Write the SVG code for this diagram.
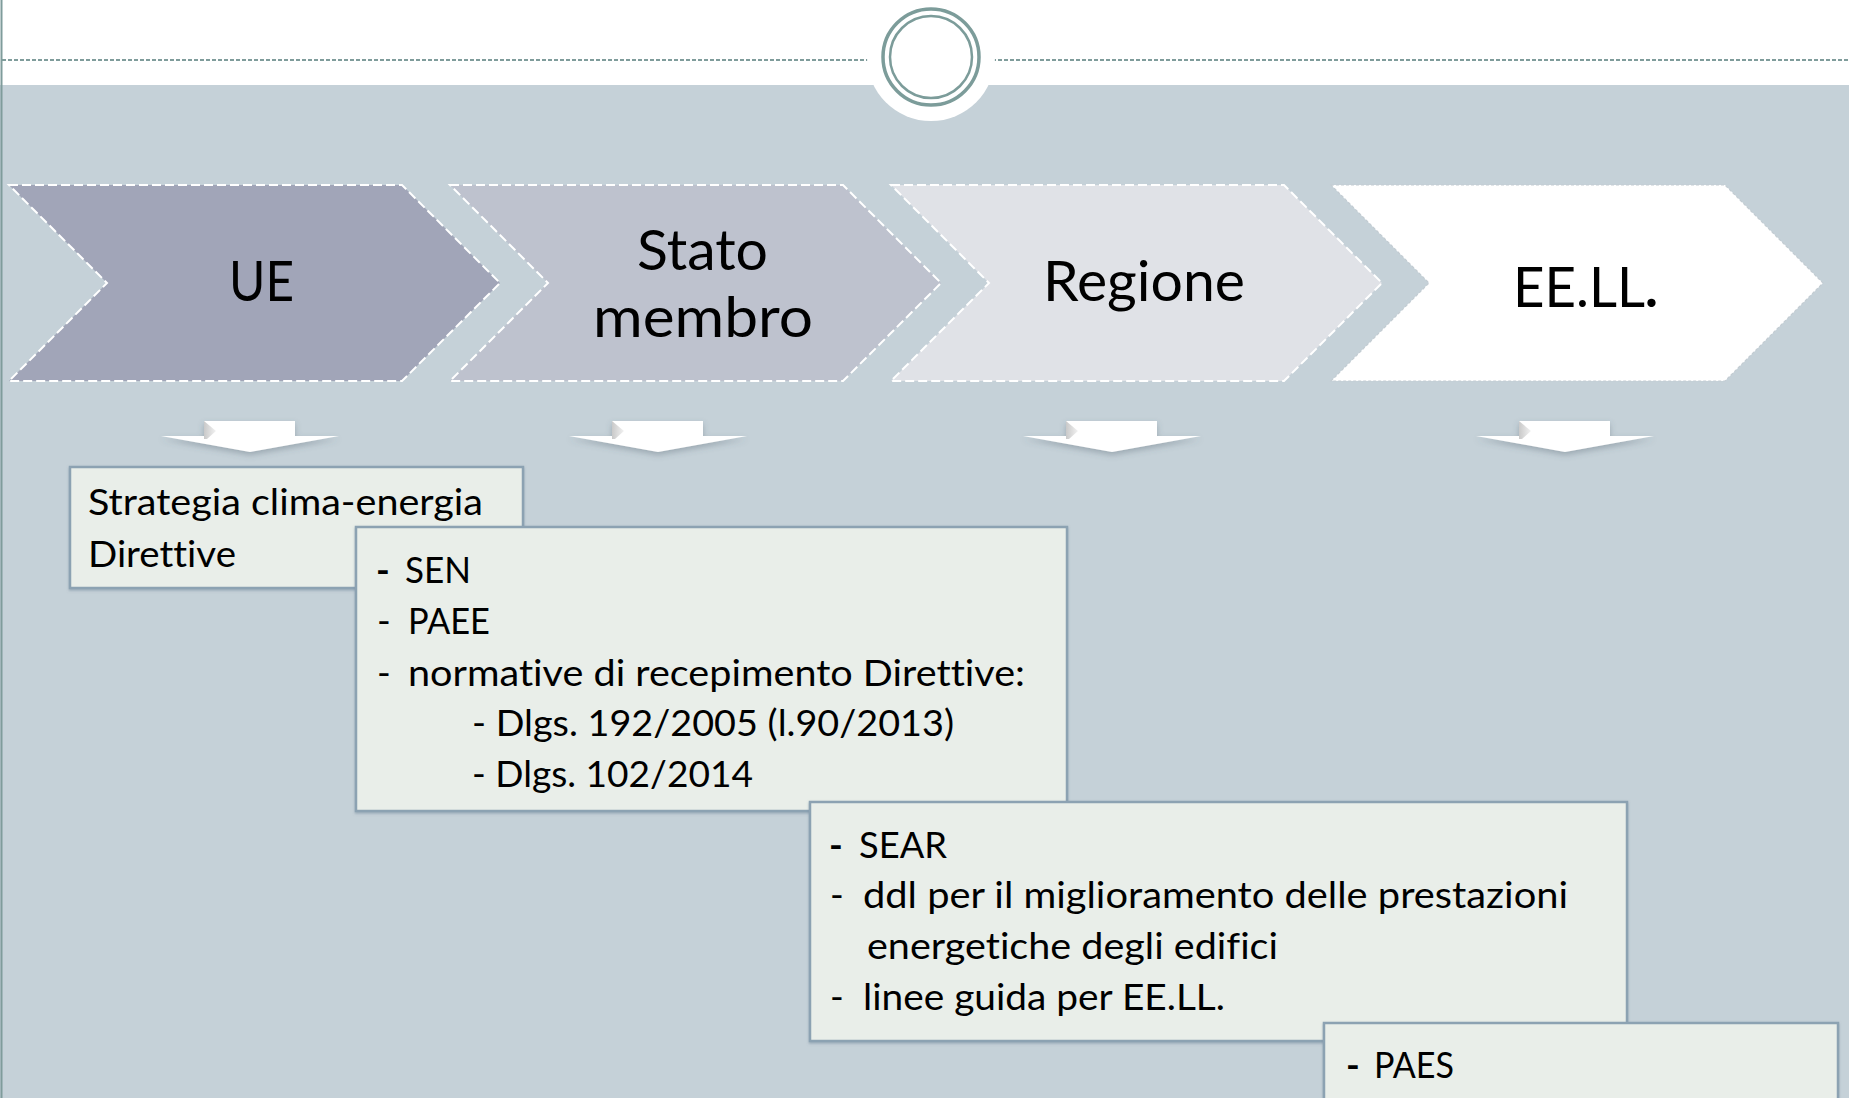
<svg xmlns="http://www.w3.org/2000/svg" width="1849" height="1098" viewBox="0 0 1849 1098">
<style>
  .lbl { font-family: Lato, "Open Sans", "Liberation Sans", sans-serif; font-size: 56px; fill: #000; font-variant-ligatures: none; }
  .txt { font-family: Lato, "Open Sans", "Liberation Sans", sans-serif; font-size: 37px; fill: #000; font-variant-ligatures: none; }
  .b { font-weight: bold; }
  .chev { stroke: #ffffff; stroke-width: 2; stroke-dasharray: 9 4; }
  .box { fill: #e9eee9; stroke: #8ca2b2; stroke-width: 2.5; }
  .ring { fill: none; stroke: #7c9c9a; }
</style>
<defs>
  <filter id="sh" x="-20%" y="-50%" width="140%" height="220%">
    <feDropShadow dx="0" dy="3" stdDeviation="3" flood-color="#4a5a66" flood-opacity="0.35"/>
  </filter>
  <filter id="bsh" x="-5%" y="-5%" width="110%" height="115%">
    <feDropShadow dx="0" dy="1.5" stdDeviation="1" flood-color="#6d8597" flood-opacity="0.5"/>
  </filter>
  <linearGradient id="bev" x1="0" y1="0" x2="1" y2="0">
    <stop offset="0" stop-color="#c9c9c9"/>
    <stop offset="1" stop-color="#f2f2f2"/>
  </linearGradient>
  <g id="arrow">
    <path d="M-46,421 H45 V436 H89 L0,452 L-89,436 H-46 Z" fill="#ffffff" filter="url(#sh)"/>
    <path d="M-46,421 L-34,431 L-43,439 L-46,439 Z" fill="url(#bev)"/>
  </g>
</defs>

<!-- background -->
<rect x="0" y="0" width="1849" height="1098" fill="#ffffff"/>
<rect x="0" y="85" width="1849" height="1013" fill="#c5d1d8"/>
<line x1="2" y1="60" x2="1849" y2="60" stroke="#7f9c9b" stroke-width="2" stroke-dasharray="4 2"/>
<circle cx="931" cy="57" r="64" fill="#ffffff"/>
<circle class="ring" cx="931" cy="57" r="48" stroke-width="3.5"/>
<circle class="ring" cx="931" cy="57" r="41" stroke-width="2.5"/>
<line x1="1.5" y1="0" x2="1.5" y2="1098" stroke="#7f9c9b" stroke-width="2"/>

<!-- chevrons -->
<g id="node-ue">
  <polygon class="chev" fill="#a1a5b8" points="9,185 402,185 500,283 402,381 9,381 107,283"/>
  <text class="lbl" x="229" y="301" textLength="65" lengthAdjust="spacingAndGlyphs">UE</text>
</g>
<g id="node-stato">
  <polygon class="chev" fill="#bec2ce" points="450,185 843,185 941,283 843,381 450,381 548,283"/>
  <text class="lbl" x="637" y="270" textLength="131" lengthAdjust="spacingAndGlyphs">Stato</text>
  <text class="lbl" x="593" y="337" textLength="220" lengthAdjust="spacingAndGlyphs">membro</text>
</g>
<g id="node-regione">
  <polygon class="chev" fill="#e0e2e7" points="891,185 1284,185 1382,283 1284,381 891,381 989,283"/>
  <text class="lbl" x="1043" y="301" textLength="202" lengthAdjust="spacingAndGlyphs">Regione</text>
</g>
<g id="node-eell">
  <polygon fill="#ffffff" stroke="#c3ccd2" stroke-width="1.2" stroke-dasharray="3 2" points="1331,185 1725,185 1823,283 1725,381 1331,381 1429,283"/>
  <text class="lbl" x="1513" y="307" textLength="145" lengthAdjust="spacingAndGlyphs">EE.LL<tspan class="b">.</tspan></text>
</g>

<!-- connectors (down arrows) -->
<g id="connectors">
  <use href="#arrow" transform="translate(250,0)"/>
  <use href="#arrow" transform="translate(658,0)"/>
  <use href="#arrow" transform="translate(1112,0)"/>
  <use href="#arrow" transform="translate(1565,0)"/>
</g>

<!-- boxes -->
<g id="box-ue">
  <rect class="box" x="70" y="467" width="453" height="121" filter="url(#bsh)"/>
  <text class="txt" x="88" y="515" textLength="395" lengthAdjust="spacingAndGlyphs">Strategia clima-energia</text>
  <text class="txt" x="88" y="567" textLength="148" lengthAdjust="spacingAndGlyphs">Direttive</text>
</g>
<g id="box-stato">
  <rect class="box" x="356" y="527" width="711" height="284" filter="url(#bsh)"/>
  <text class="txt b" x="376" y="583">-</text>
  <text class="txt" x="405" y="583" textLength="66" lengthAdjust="spacingAndGlyphs">SEN</text>
  <text class="txt" x="377" y="634">-</text>
  <text class="txt" x="408" y="634" textLength="82" lengthAdjust="spacingAndGlyphs">PAEE</text>
  <text class="txt" x="377" y="686">-</text>
  <text class="txt" x="408" y="686" textLength="617" lengthAdjust="spacingAndGlyphs">normative di recepimento Direttive:</text>
  <text class="txt" x="472" y="736" textLength="482" lengthAdjust="spacingAndGlyphs">- Dlgs. 192/2005 (l.90/2013)</text>
  <text class="txt" x="472" y="787" textLength="281" lengthAdjust="spacingAndGlyphs">- Dlgs. 102/2014</text>
</g>
<g id="box-regione">
  <rect class="box" x="810" y="802" width="817" height="239" filter="url(#bsh)"/>
  <text class="txt b" x="829" y="858">-</text>
  <text class="txt" x="859" y="858" textLength="88" lengthAdjust="spacingAndGlyphs">SEAR</text>
  <text class="txt" x="830" y="908">-</text>
  <text class="txt" x="863" y="908" textLength="705" lengthAdjust="spacingAndGlyphs">ddl per il miglioramento delle prestazioni</text>
  <text class="txt" x="867" y="959" textLength="411" lengthAdjust="spacingAndGlyphs">energetiche degli edifici</text>
  <text class="txt" x="830" y="1010">-</text>
  <text class="txt" x="863" y="1010" textLength="362" lengthAdjust="spacingAndGlyphs">linee guida per EE.LL.</text>
</g>
<g id="box-eell">
  <rect class="box" x="1324" y="1023" width="514" height="90" filter="url(#bsh)"/>
  <text class="txt b" x="1346" y="1078">-</text>
  <text class="txt" x="1374" y="1078" textLength="80" lengthAdjust="spacingAndGlyphs">PAES</text>
</g>
</svg>
